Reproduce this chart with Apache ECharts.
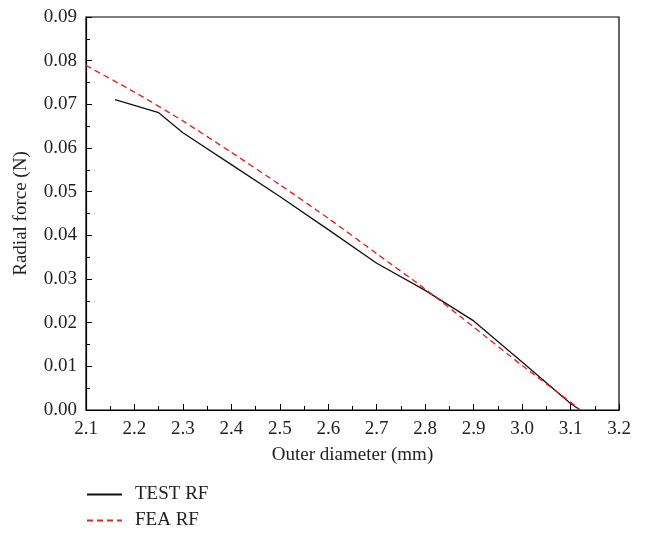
<!DOCTYPE html>
<html><head><meta charset="utf-8">
<script src="https://cdn.jsdelivr.net/npm/echarts@6/dist/echarts.min.js"></script>
<style>html,body{margin:0;padding:0;background:#fff}#c{width:645px;height:535px}</style>
</head><body><div id="c"></div>
<script>
var testX = [2.16, 2.25, 2.30, 2.40, 2.50, 2.60, 2.70, 2.80, 2.90, 3.00, 3.10, 3.12];
var testY = [0.0711, 0.0681, 0.0635, 0.0562, 0.0489, 0.0413, 0.0336, 0.0274, 0.0204, 0.0110, 0.0015, 0.0000];
var feaX = [2.10, 2.20, 2.30, 2.40, 2.50, 2.60, 2.70, 2.80, 2.90, 3.00, 3.10, 3.12];
var feaY = [0.0789, 0.0728, 0.0662, 0.0590, 0.0516, 0.0439, 0.0358, 0.0277, 0.0190, 0.0102, 0.0018, 0.0000];
var xTicks = {min: 2.1, max: 3.2, interval: 0.1};
var yTicks = {min: 0, max: 0.09, interval: 0.01};
var seriesNames = ['TEST RF', 'FEA RF'];

function pairs(xs, ys){ return xs.map(function(x,i){return [x, ys[i]];}); }
var font = 'Liberation Serif';
var txt = '#222';
function legendFor(name, top){
  return {
    left: 86, top: top, padding: 0, itemWidth: 35, itemHeight: 14,
    itemStyle: {opacity: 0},
    textStyle: {fontFamily: font, fontSize: 19, color: txt, padding: [0,0,0,8]},
    data: [name]
  };
}
var chart = echarts.init(document.getElementById('c'));
chart.setOption({
  animation: false,
  grid: {left: 86, right: 26, top: 17, bottom: 125, show: true, borderColor: '#000', borderWidth: 1.2, backgroundColor: 'transparent'},
  xAxis: {
    type: 'value', min: xTicks.min, max: xTicks.max, interval: xTicks.interval,
    name: 'Outer diameter (mm)', nameLocation: 'middle', nameGap: 36,
    nameTextStyle: {fontFamily: font, fontSize: 19, color: txt},
    axisLine: {show: true, lineStyle: {color: '#000', width: 1.2}},
    axisTick: {show: true, inside: true, length: 6, lineStyle: {color: '#000'}},
    minorTick: {show: true, splitNumber: 2, length: 4, lineStyle: {color: '#000'}},
    splitLine: {show: false},
    axisLabel: {fontFamily: font, fontSize: 19, color: txt, margin: 10,
      formatter: function(v){ return v.toFixed(1); }}
  },
  yAxis: {
    type: 'value', min: yTicks.min, max: yTicks.max, interval: yTicks.interval,
    name: 'Radial force (N)', nameLocation: 'middle', nameGap: 55,
    nameTextStyle: {fontFamily: font, fontSize: 19, color: txt},
    axisLine: {show: true, lineStyle: {color: '#000', width: 1.2}},
    axisTick: {show: true, inside: true, length: 6, lineStyle: {color: '#000'}},
    minorTick: {show: true, splitNumber: 2, length: 4, lineStyle: {color: '#000'}},
    splitLine: {show: false},
    axisLabel: {fontFamily: font, fontSize: 19, color: txt, margin: 9,
      formatter: function(v){ return v.toFixed(2); }}
  },
  legend: [legendFor(seriesNames[0], 485), legendFor(seriesNames[1], 511)],
  series: [
    {name: seriesNames[0], type: 'line', data: pairs(testX, testY), showSymbol: false, symbol: 'none',
     lineStyle: {color: '#111', width: 1.3}, itemStyle: {color: '#111'}},
    {name: seriesNames[1], type: 'line', data: pairs(feaX, feaY), showSymbol: false, symbol: 'none', smooth: 0.2,
     lineStyle: {color: '#e8231f', width: 1.4, type: [6,4]}, itemStyle: {color: '#e8231f'}}
  ]
});
</script></body></html>
